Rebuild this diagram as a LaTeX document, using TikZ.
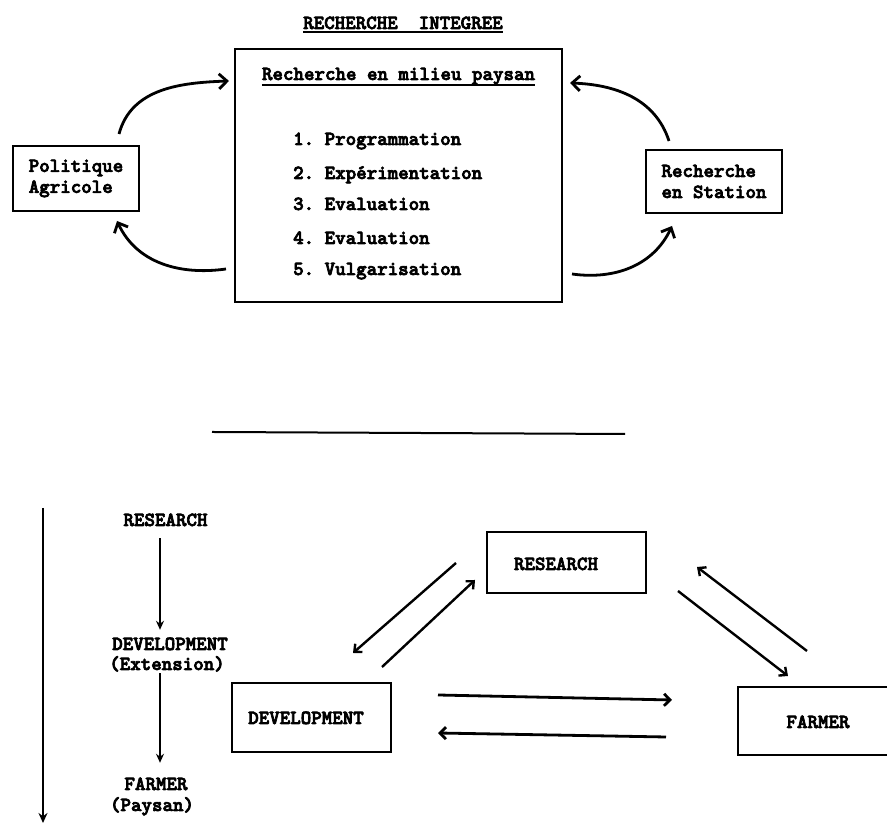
\documentclass[tikz,border=0pt]{standalone}
\usepackage{fontspec}
\usetikzlibrary{arrows.meta}
\newfontfamily\twfont{lmmonolt10-bold.otf}[FakeBold=3.5]
\newcommand{\tw}{\fontsize{20}{21}\twfont\frenchspacing}
\tikzset{
  txt/.style={font=\tw, inner sep=0pt, text height=11pt, text depth=3pt, yshift=-3pt},
  box/.style={draw, line width=2pt, inner sep=0pt},
  boxtxt/.style={box, font=\tw, align=left},
  uline/.style={line width=2pt},
  curv/.style={line width=2.8pt, -{Straight Barb[length=8pt,width=15pt]}},
  diag/.style={line width=2.4pt, -{Straight Barb[length=6pt,width=11pt]}},
  horiz/.style={line width=2.8pt, -{Straight Barb[length=6pt,width=12pt]}},
  colarr/.style={line width=1.6pt, -{Stealth[length=9pt,width=8pt]}},
  bigarr/.style={line width=2.4pt, -{Stealth[length=10pt,width=9pt]}},
}
\begin{document}
\begin{tikzpicture}[x=1pt,y=1pt]
\useasboundingbox (0,0) rectangle (887,826);

% ---------- top part ----------
\node[txt] (title) at (403,804) {RECHERCHE~~INTEGREE};
\draw[uline] (title.south west) -- (title.south east);

\node[box, minimum width=327pt, minimum height=253pt] (mb) at (398.5,650.5) {};
\node[txt] (sub) at (398.5,753) {Recherche en milieu paysan};
\draw[uline] ([yshift=-2pt]sub.south west) -- ([yshift=-2pt]sub.south east);
\node[txt, anchor=west] (i1) at (293,688) {1. Programmation};
\node[txt, anchor=west] (i2) at (293,654) {2. Expérimentation};
\node[txt, anchor=west] (i3) at (293,623) {3. Evaluation};
\node[txt, anchor=west] (i4) at (293,589) {4. Evaluation};
\node[txt, anchor=west] (i5) at (293,558) {5. Vulgarisation};

\node[boxtxt, minimum width=126pt, minimum height=65pt] (pa) at (76,647.5) {Politique\\Agricole};
\node[boxtxt, minimum width=136pt, minimum height=63pt] (rs) at (714,644.5) {Recherche\\en Station};

\draw[curv] ([xshift=43pt,yshift=11pt]pa.north) to[out=75,in=182] ([xshift=-5pt,yshift=94.5pt]mb.west);
\draw[curv] ([xshift=-8pt,yshift=-93.5pt]mb.west) to[out=188,in=-65] ([xshift=41pt,yshift=-9pt]pa.south);
\draw[curv] ([xshift=-45pt,yshift=8pt]rs.north) to[out=108,in=-2] ([xshift=7pt,yshift=92.5pt]mb.east);
\draw[curv] ([xshift=9pt,yshift=-98.5pt]mb.east) to[out=-8,in=-115] ([xshift=-42pt,yshift=-12pt]rs.south);

% ---------- separator ----------
\coordinate (s1) at (212,394);
\coordinate (s2) at (625,392);
\draw[uline] (s1) -- (s2);

% ---------- bottom left column ----------
\coordinate (vtop) at (43,318);
\coordinate (vbot) at (43,3);
\draw[bigarr] (vtop) -- (vbot);

\node[txt] (r1) at (165.5,307) {RESEARCH};
\node[txt] (d1) at (170,183) {DEVELOPMENT};
\node[txt] (e1) at (167,163) {(Extension)};
\node[txt] (f1) at (156,43) {FARMER};
\node[txt] (p1) at (152,22) {(Paysan)};
\draw[colarr] ([xshift=-5.5pt,yshift=-9pt]r1.south) -- ([xshift=-10pt,yshift=9pt]d1.north);
\draw[colarr] ([xshift=-7pt,yshift=0pt]e1.south) -- ([xshift=4pt,yshift=16pt]f1.north);

% ---------- bottom triangle ----------
\node[box, minimum width=159pt, minimum height=61pt] (rb) at (566.5,263.5) {};
\node[txt] (rbt) at (556,263) {RESEARCH};
\node[box, minimum width=159pt, minimum height=69pt] (db) at (311.5,108.5) {};
\node[txt] (dbt) at (306,109) {DEVELOPMENT};
\node[box, minimum width=160pt, minimum height=68pt] (fb) at (818,105) {};
\node[txt] (fbt) at (818,105) {FARMER};

\draw[diag] ([xshift=-30pt,yshift=-0.5pt]rb.west) -- ([xshift=41.5pt,yshift=29pt]db.north);
\draw[diag] ([xshift=70.5pt,yshift=15pt]db.north) -- ([xshift=-11pt,yshift=-17.5pt]rb.west);
\draw[diag] ([xshift=31pt,yshift=-28.5pt]rb.east) -- ([xshift=-30pt,yshift=10pt]fb.north);
\draw[diag] ([xshift=-11pt,yshift=35pt]fb.north) -- ([xshift=50pt,yshift=-4.5pt]rb.east);
\draw[horiz] ([xshift=46pt,yshift=22.5pt]db.east) -- ([xshift=-65pt,yshift=21pt]fb.west);
\draw[horiz] ([xshift=-71pt,yshift=-16pt]fb.west) -- ([xshift=46pt,yshift=-15.5pt]db.east);
\end{tikzpicture}
\end{document}
